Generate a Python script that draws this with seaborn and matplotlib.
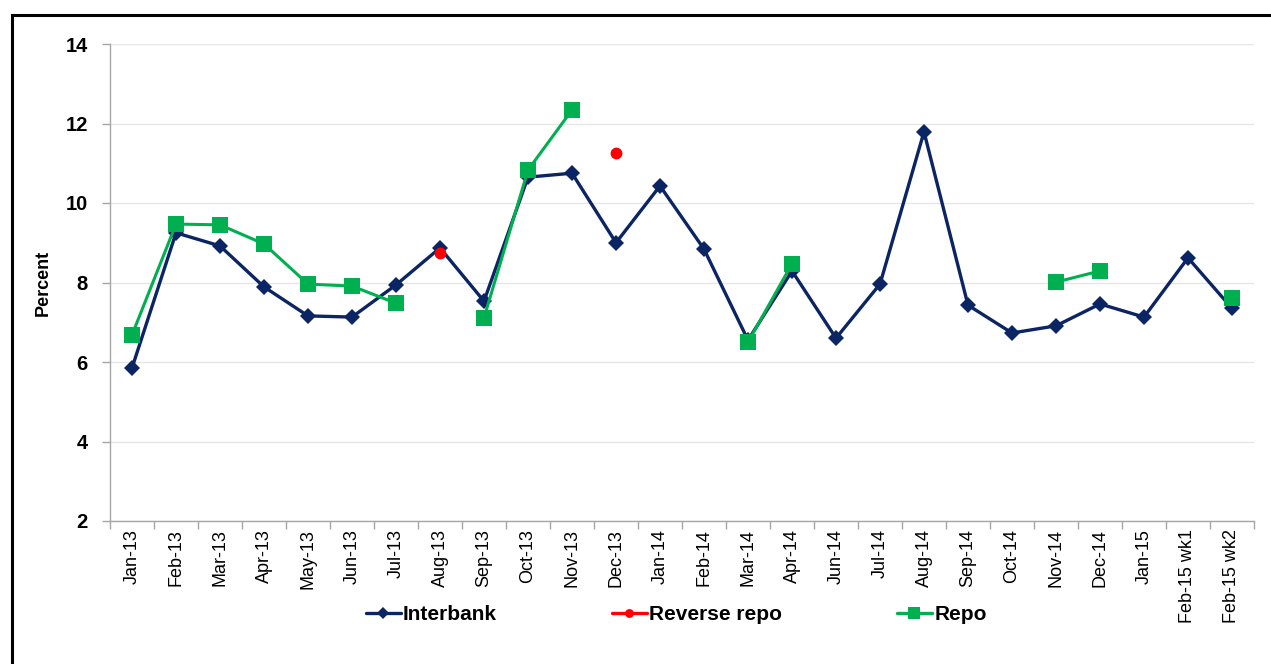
import numpy as np
import pandas as pd
import matplotlib
matplotlib.use('Agg')
import matplotlib.pyplot as plt
from matplotlib.lines import Line2D
import seaborn as sns

# category labels along the x axis
months = ['Jan-13', 'Feb-13', 'Mar-13', 'Apr-13', 'May-13', 'Jun-13', 'Jul-13',
          'Aug-13', 'Sep-13', 'Oct-13', 'Nov-13', 'Dec-13', 'Jan-14', 'Feb-14',
          'Mar-14', 'Apr-14', 'Jun-14', 'Jul-14', 'Aug-14', 'Sep-14', 'Oct-14',
          'Nov-14', 'Dec-14', 'Jan-15', 'Feb-15 wk1', 'Feb-15 wk2']

interbank = [5.85, 9.25, 8.92, 7.89, 7.16, 7.13, 7.94, 8.87, 7.53, 10.65,
             10.75, 9.00, 10.43, 8.84, 6.55, 8.29, 6.60, 7.96, 11.79, 7.43,
             6.73, 6.91, 7.46, 7.13, 8.62, 7.35]
reverse_repo = [np.nan, np.nan, np.nan, np.nan, np.nan, np.nan, np.nan, 8.74,
                np.nan, np.nan, np.nan, 11.26, np.nan, np.nan, np.nan, np.nan,
                np.nan, np.nan, np.nan, np.nan, np.nan, np.nan, np.nan, np.nan,
                np.nan, np.nan]
repo = [6.68, 9.47, 9.45, 8.97, 7.96, 7.91, 7.48, np.nan, 7.11, 10.83,
        12.34, np.nan, np.nan, np.nan, 6.50, 8.47, np.nan, np.nan, np.nan,
        np.nan, np.nan, 8.01, 8.29, np.nan, np.nan, 7.61]

yticks = [2, 4, 6, 8, 10, 12, 14]

NAVY = '#0B2463'
RED = '#FF0000'
GREEN = '#00B050'


def segments(values):
    # long frame with a segment id so gaps break the line
    s = pd.Series(values, dtype=float)
    seg = s.isna().cumsum()
    df = pd.DataFrame({'pos': np.arange(len(s)), 'value': s, 'seg': seg})
    return df.dropna()


sns.set_theme(style='white', rc={'text.color': 'black', 'xtick.color': 'black',
                                 'ytick.color': 'black', 'axes.labelcolor': 'black'})
plt.rcParams['font.family'] = ['Liberation Sans', 'DejaVu Sans']

fig = plt.figure(figsize=(12.71, 6.64), dpi=100)
ax = fig.add_axes([110 / 1271, 1 - 521 / 664, (1254 - 110) / 1271, (521 - 44) / 664])

series = [
    ('Interbank', interbank, NAVY, 'D', 8, 2.4),
    ('Reverse repo', reverse_repo, RED, 'o', 8.5, 2.0),
    ('Repo', repo, GREEN, 's', 11, 2.2),
]
for name, vals, col, mk, ms, lw in series:
    d = segments(vals)
    sns.lineplot(data=d, x='pos', y='value', units='seg', estimator=None,
                 color=col, marker=mk, markersize=ms, linewidth=lw,
                 markeredgewidth=0, ax=ax, legend=False, zorder=3)

n = len(months)
ax.set_xlim(-0.5, n - 0.5)
ax.set_ylim(2, 14)
ax.set_yticks(yticks)
ax.set_yticklabels([str(t) for t in yticks], fontsize=14.5, fontweight='bold')
ax.set_xticks(np.arange(n))
ax.set_xticklabels(months, rotation=90, fontsize=13)
ax.set_xticks(np.arange(n + 1) - 0.5, minor=True)
ax.tick_params(axis='x', which='major', length=0, pad=6, labelcolor='black')
ax.tick_params(axis='x', which='minor', length=6, color='#A6A6A6', width=1, direction='out', bottom=True)
ax.tick_params(axis='y', length=6, color='#A6A6A6', width=1, direction='out', left=True, pad=10,
               labelcolor='black')
ax.set_xlabel('')
ax.set_ylabel('Percent', fontsize=13, fontweight='bold', labelpad=10, color='black')

ax.yaxis.grid(True, color='#E6E6E6', linewidth=1)
ax.set_axisbelow(True)
for sp in ['top', 'right']:
    ax.spines[sp].set_visible(False)
for sp in ['left', 'bottom']:
    ax.spines[sp].set_color('#A6A6A6')
    ax.spines[sp].set_linewidth(1)

handles = [Line2D([0], [0], color=c, marker=m, markersize=ms * 0.75, linewidth=2.4,
                  markeredgewidth=0, label=nm)
           for nm, _, c, m, ms, _ in series]
fig.legend(handles=handles, loc='center', bbox_to_anchor=(0.532, 0.074), ncol=3,
           frameon=False, handlelength=1.7, columnspacing=5.5, handletextpad=0.1,
           prop={'weight': 'bold', 'size': 15}, labelcolor='black')

# black frame around the chart area (top and left edges visible)
frame = plt.Rectangle((11.5 / 1271, -0.1), 1.2, 1 - 15.5 / 664 + 0.1,
                      transform=fig.transFigure, fill=False, edgecolor='black',
                      linewidth=2.2, clip_on=False)
fig.patches.append(frame)

fig.savefig('out.png', dpi=100)
